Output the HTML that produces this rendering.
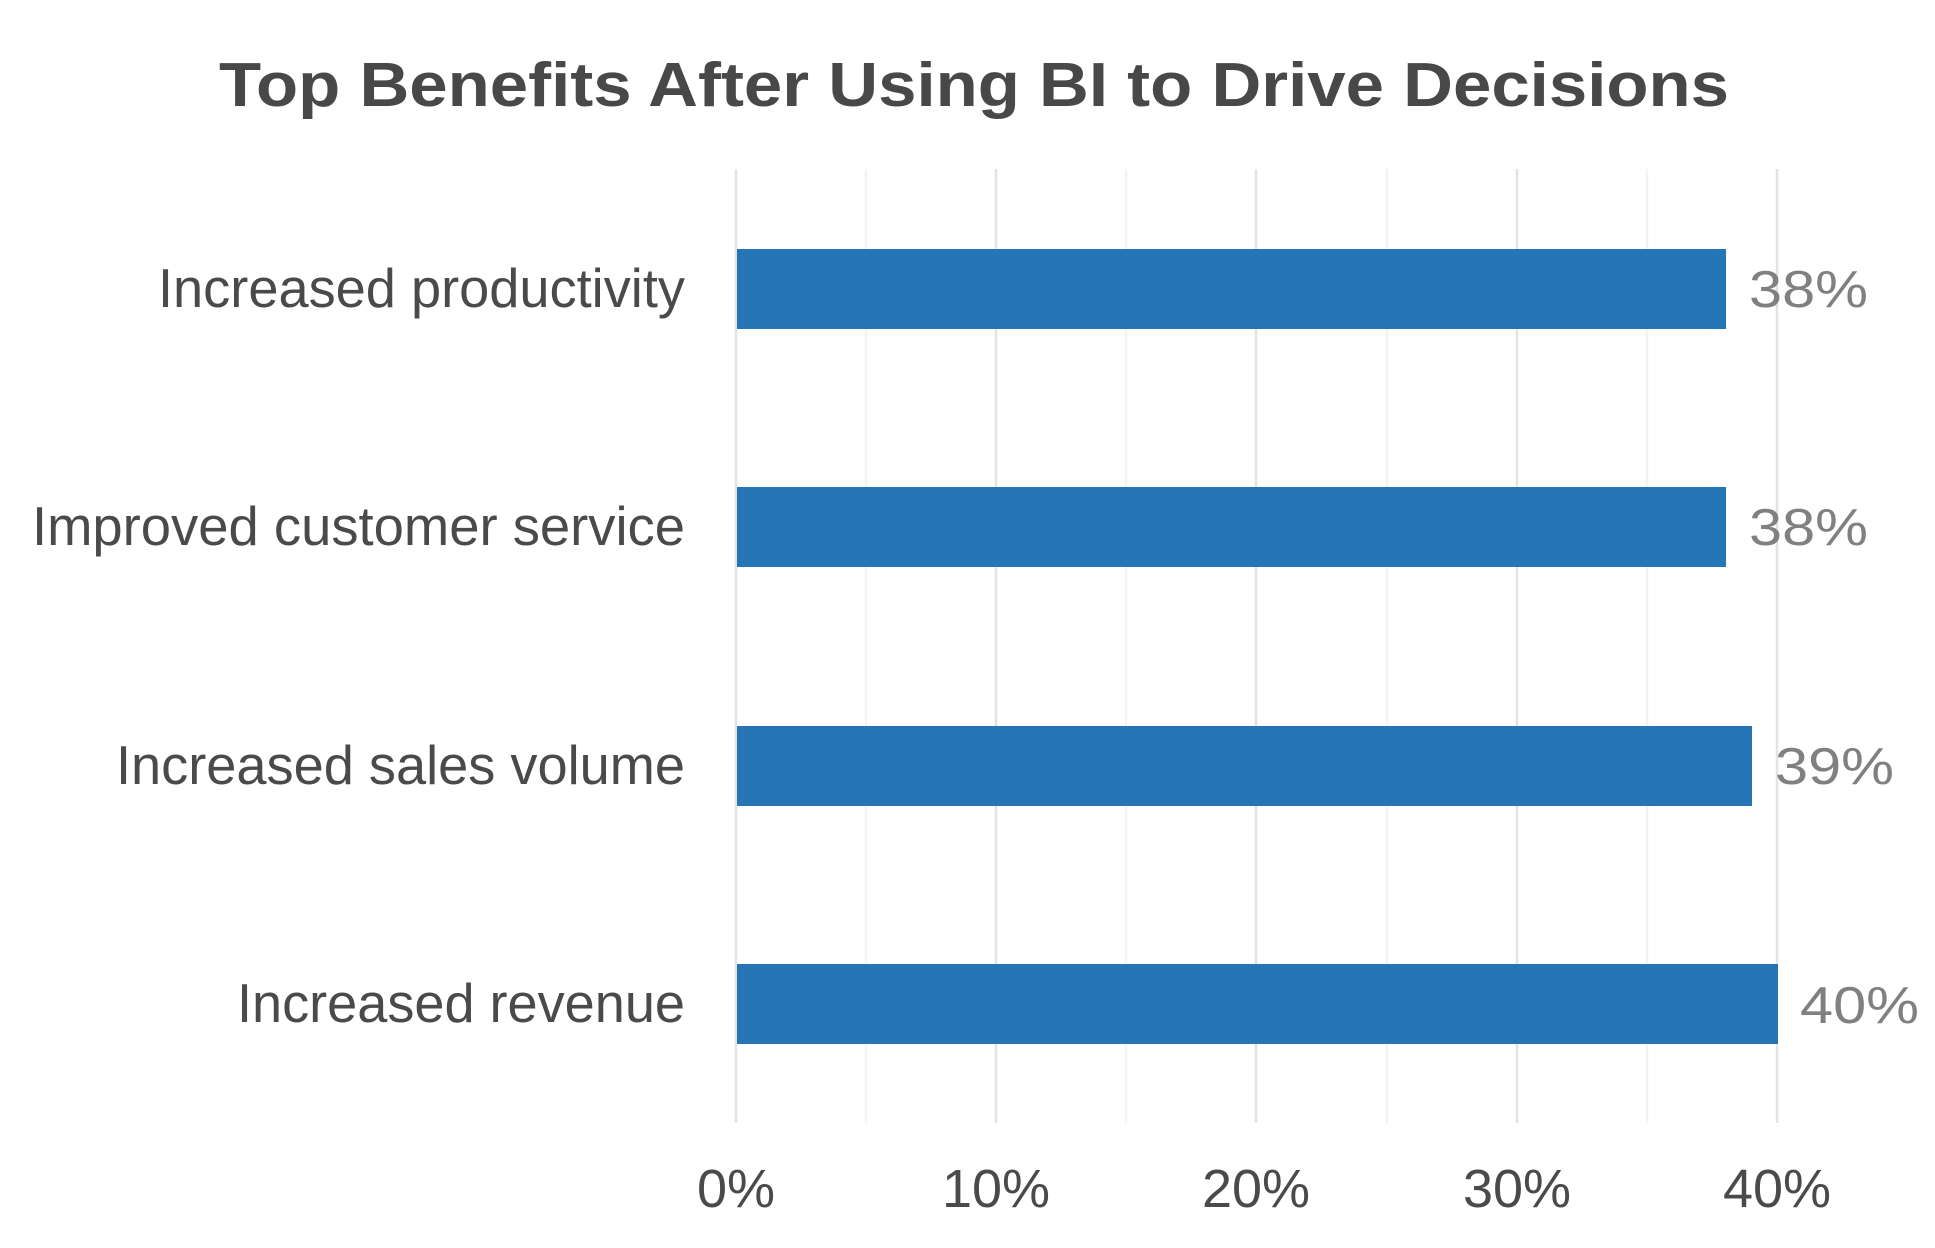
<!DOCTYPE html>
<html><head><meta charset="utf-8"><style>html,body{margin:0;padding:0;background:#fff}svg{display:block}</style></head>
<body>
<svg width="1935" height="1248" viewBox="0 0 1935 1248" xmlns="http://www.w3.org/2000/svg">
<rect width="1935" height="1248" fill="#fff"/>
<text x="219" y="106" font-family="Liberation Sans, sans-serif" font-weight="bold" font-size="62" fill="#484848" textLength="1510" lengthAdjust="spacingAndGlyphs">Top Benefits After Using BI to Drive Decisions</text>
<g stroke-width="2.5">
<line x1="866" y1="169" x2="866" y2="1123" stroke="#f3f3f3"/>
<line x1="1126" y1="169" x2="1126" y2="1123" stroke="#f3f3f3"/>
<line x1="1387" y1="169" x2="1387" y2="1123" stroke="#f3f3f3"/>
<line x1="1647" y1="169" x2="1647" y2="1123" stroke="#f3f3f3"/>
<line x1="736" y1="169" x2="736" y2="1123" stroke="#e3e3e3"/>
<line x1="996" y1="169" x2="996" y2="1123" stroke="#e3e3e3"/>
<line x1="1256" y1="169" x2="1256" y2="1123" stroke="#e3e3e3"/>
<line x1="1517" y1="169" x2="1517" y2="1123" stroke="#e3e3e3"/>
<line x1="1777" y1="169" x2="1777" y2="1123" stroke="#e3e3e3"/>
</g>
<g fill="#2676b5">
<rect x="737" y="249" width="989" height="80"/>
<rect x="737" y="487" width="989" height="80"/>
<rect x="737" y="726" width="1015" height="80"/>
<rect x="737" y="964" width="1041" height="80"/>
</g>
<g font-family="Liberation Sans, sans-serif" font-size="55" fill="#4a4a4a" lengthAdjust="spacingAndGlyphs">
<text x="158" y="307" textLength="527" lengthAdjust="spacingAndGlyphs">Increased productivity</text>
<text x="32" y="545" textLength="653" lengthAdjust="spacingAndGlyphs">Improved customer service</text>
<text x="116" y="784" textLength="569" lengthAdjust="spacingAndGlyphs">Increased sales volume</text>
<text x="237" y="1022" textLength="448" lengthAdjust="spacingAndGlyphs">Increased revenue</text>
</g>
<g font-family="Liberation Sans, sans-serif" font-size="52" fill="#808080">
<text x="1749" y="307" textLength="119" lengthAdjust="spacingAndGlyphs">38%</text>
<text x="1749" y="545" textLength="119" lengthAdjust="spacingAndGlyphs">38%</text>
<text x="1775" y="784" textLength="119" lengthAdjust="spacingAndGlyphs">39%</text>
<text x="1800" y="1023" textLength="119" lengthAdjust="spacingAndGlyphs">40%</text>
</g>
<g font-family="Liberation Sans, sans-serif" font-size="54" fill="#4a4a4a" text-anchor="middle">
<text x="736" y="1207">0%</text>
<text x="996" y="1207">10%</text>
<text x="1256" y="1207">20%</text>
<text x="1517" y="1207">30%</text>
<text x="1777" y="1207">40%</text>
</g>
</svg>
</body></html>
